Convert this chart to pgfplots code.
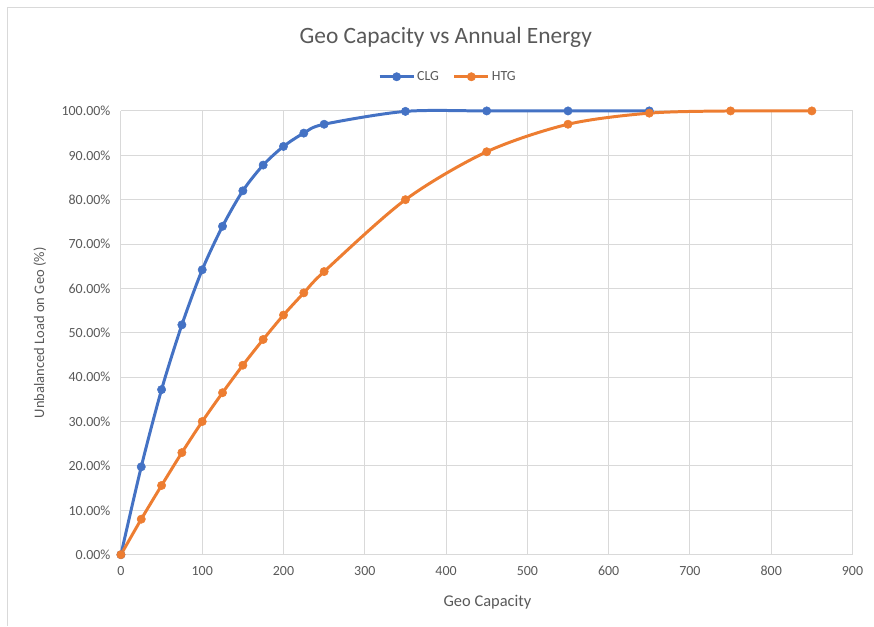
\documentclass[border=0pt]{standalone}
\usepackage{pgfplots}
\pgfplotsset{compat=1.18}
\usepackage{fontspec}
\setmainfont{Carlito}
\definecolor{clg}{RGB}{68,114,196}
\definecolor{htg}{RGB}{237,125,49}
\definecolor{txt}{RGB}{89,89,89}
\definecolor{gridc}{RGB}{217,217,217}
\begin{document}
\begin{tikzpicture}
\begin{axis}[
  scale only axis,
  width=732bp, height=444bp,
  xmin=0, xmax=900, ymin=0, ymax=100,
  xtick={0,100,...,900},
  ytick={0,10,...,100},
  yticklabels={0.00\%,10.00\%,20.00\%,30.00\%,40.00\%,50.00\%,60.00\%,70.00\%,80.00\%,90.00\%,100.00\%},
  /pgf/number format/assume math mode=true,
  grid=major,
  major grid style={gridc, line width=1.1pt},
  axis line style={draw=none},
  tick style={draw=none},
  ticklabel style={font=\fontsize{14}{16}\selectfont, text=txt},
  yticklabel style={xshift=-7bp},
  xticklabel style={yshift=-8bp},
  clip=false,
  legend style={draw=none, at={(0.447,1.077)}, anchor=center,
    font=\fontsize{14}{16}\selectfont, text=txt, legend columns=2,
    /tikz/every even column/.append style={column sep=12bp}},
  legend image code/.code={
    \draw[#1, mark=none] (0cm,0cm) -- (1.2cm,0cm);
    \draw[#1, only marks] plot coordinates {(0.6cm,0cm)};},
]
\addplot[clg, line width=3pt, smooth, tension=0.5, mark=*, mark size=4.2pt, mark options={fill=clg, draw=clg, line width=0.5pt}]
coordinates {
(0,0) (25,19.8) (50,37.2) (75,51.8) (100,64.2) (125,74.0) (150,82.0)
(175,87.8) (200,92.0) (225,95.0) (250,97.0) (350,99.9) (450,100)
(550,100) (650,100)
};
\addlegendentry{CLG}
\addplot[htg, line width=3pt, smooth, tension=0.5, mark=*, mark size=4.2pt, mark options={fill=htg, draw=htg, line width=0.5pt}]
coordinates {
(0,0) (25,8.0) (50,15.6) (75,23.0) (100,30.0) (125,36.5) (150,42.7)
(175,48.5) (200,54.0) (225,59.0) (250,63.8) (350,80.0) (450,90.8)
(550,97.0) (650,99.5) (750,100) (850,100)
};
\addlegendentry{HTG}
\node[text=txt, font=\fontsize{23.5}{26}\selectfont] at (rel axis cs:0.444,1.166) {Geo Capacity vs Annual Energy};
\node[text=txt, font=\fontsize{16.5}{18}\selectfont] at (rel axis cs:0.501,-0.106) {Geo Capacity};
\node[text=txt, font=\fontsize{14.6}{16}\selectfont, rotate=90] at (rel axis cs:-0.111,0.5) {Unbalanced Load on Geo (\%)};
\draw[gridc, line width=1pt] (rel axis cs:-0.1557,-0.160) -- (rel axis cs:-0.1557,1.234) -- (rel axis cs:1.0287,1.234);
\path[use as bounding box] (rel axis cs:-0.1653,-0.1599) rectangle (rel axis cs:1.0287,1.25);
\end{axis}
\end{tikzpicture}
\end{document}
